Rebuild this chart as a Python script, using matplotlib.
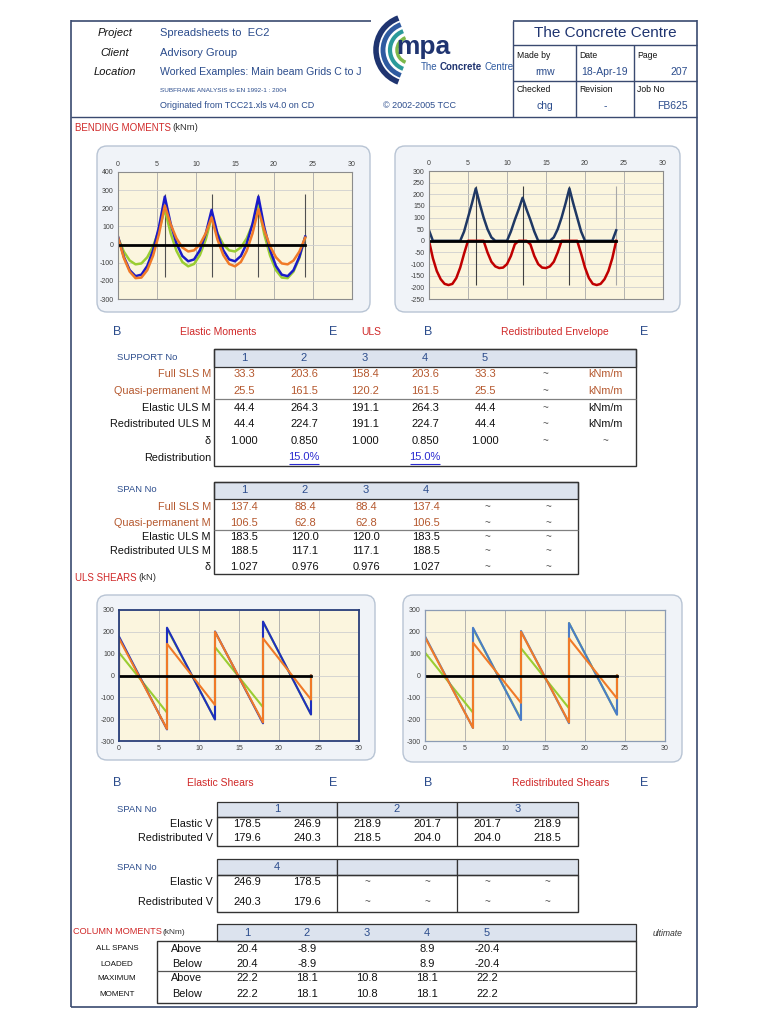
import matplotlib
matplotlib.use("Agg")
import matplotlib.pyplot as plt
from matplotlib.patches import FancyBboxPatch, Rectangle, Arc

W, H = 768, 1024
plt.rcParams["font.family"] = ["Liberation Sans", "DejaVu Sans"]
plt.rcParams["axes.unicode_minus"] = False

NAVY = "#2B4C8C"
RED = "#D02828"
BROWN = "#B5582E"
HDR = "#DCE3EE"
CREAM = "#FBF5DE"

# ---------------- data ----------------
support_no = [1, 2, 3, 4, 5]
full_sls_sup = [33.3, 203.6, 158.4, 203.6, 33.3]
quasi_sup = [25.5, 161.5, 120.2, 161.5, 25.5]
elastic_uls_sup = [44.4, 264.3, 191.1, 264.3, 44.4]
redis_uls_sup = [44.4, 224.7, 191.1, 224.7, 44.4]
delta_sup = [1.000, 0.850, 1.000, 0.850, 1.000]
redistribution = ["", "15.0%", "", "15.0%", ""]

span_no = [1, 2, 3, 4]
full_sls_span = [137.4, 88.4, 88.4, 137.4]
quasi_span = [106.5, 62.8, 62.8, 106.5]
elastic_uls_span = [183.5, 120.0, 120.0, 183.5]
redis_uls_span = [188.5, 117.1, 117.1, 188.5]
delta_span = [1.027, 0.976, 0.976, 1.027]

elastic_v = [178.5, 246.9, 218.9, 201.7, 201.7, 218.9]
redis_v = [179.6, 240.3, 218.5, 204.0, 204.0, 218.5]
elastic_v4 = [246.9, 178.5]
redis_v4 = [240.3, 179.6]

col_above_all = [20.4, -8.9, None, 8.9, -20.4]
col_below_all = [20.4, -8.9, None, 8.9, -20.4]
col_above_max = [22.2, 18.1, 10.8, 18.1, 22.2]
col_below_max = [22.2, 18.1, 10.8, 18.1, 22.2]

# bending moment diagrams (hogging plotted positive), stations along beam (m)
beam_x = [0, 0.75, 1.5, 2.25, 3, 3.75, 4.5, 5.25, 6,
          6.75, 7.5, 8.25, 9, 9.75, 10.5, 11.25, 12,
          12.75, 13.5, 14.25, 15, 15.75, 16.5, 17.25, 18,
          18.75, 19.5, 20.25, 21, 21.75, 22.5, 23.25, 24]
m_all_spans = [44, -68, -141, -174, -166, -118, -31, 96, 264,
               115, 6, -63, -92, -82, -31, 60, 191,
               60, -31, -82, -92, -63, 6, 115, 264,
               96, -31, -118, -166, -174, -141, -68, 44]
m_alt_13 = [40, -74, -149, -185, -182, -141, -61, 57, 215,
            111, 34, -16, -38, -32, 1, 62, 150,
            28, -58, -107, -120, -96, -35, 62, 195,
            79, -9, -70, -104, -109, -88, -39, 38]
m_alt_24 = [38, -39, -88, -109, -104, -70, -9, 79, 195,
            62, -35, -96, -120, -107, -58, 28, 150,
            62, 1, -32, -38, -16, 34, 111, 215,
            57, -61, -141, -182, -185, -149, -74, 40]

env_x = [0, 0.5, 1, 1.5, 2, 2.5, 3, 3.5, 4, 4.5, 5, 5.5, 6, 6.5, 7, 7.5, 8, 8.5,
         9, 9.5, 10, 10.5, 11, 11.5, 12, 12.5, 13, 13.5, 14, 14.5, 15, 15.5, 16,
         16.5, 17, 17.5, 18, 18.5, 19, 19.5, 20, 20.5, 21, 21.5, 22, 22.5, 23,
         23.5, 24]
env_hog = [45, 0, 0, 0, 0, 0, 0, 0, 0, 40, 100, 160, 225, 160, 100, 50, 15, 0,
           0, 0, 0, 40, 90, 135, 185, 135, 90, 40, 0, 0, 0, 0, 15,
           50, 100, 160, 225, 160, 100, 40, 0, 0, 0, 0, 0, 0, 0,
           0, 45]
env_sag = [0, -75, -130, -165, -185, -190, -185, -160, -115, -55, 0, 0, 0, 0, 0, -50, -90, -110,
           -117, -115, -100, -65, -15, 0, 0, 0, -15, -65, -100, -115, -117, -110, -90,
           -50, 0, 0, 0, 0, 0, -55, -115, -160, -185, -190, -185, -165, -130,
           -75, 0]

support_x = [6, 12, 18, 24]

# shear force diagrams
shear_x = [0, 0, 6, 6, 12, 12, 18, 18, 24, 24]
v_el_all = [0, 178.5, -246.9, 218.9, -201.7, 201.7, -218.9, 246.9, -178.5, 0]
v_el_13 = [0, 170, -245, 145, -135, 200, -215, 170, -110, 0]
v_el_24 = [0, 105, -170, 215, -200, 130, -145, 245, -178, 0]
v_rd_all = [0, 179.6, -240.3, 218.5, -204.0, 204.0, -218.5, 240.3, -179.6, 0]
v_rd_13 = [0, 175, -240, 150, -125, 200, -215, 170, -105, 0]
v_rd_24 = [0, 105, -170, 215, -200, 125, -150, 240, -178, 0]

# ---------------- figure ----------------
fig = plt.figure(figsize=(W / 100, H / 100), dpi=100)
fig.patch.set_facecolor("white")
ov = fig.add_axes([0, 0, 1, 1])
ov.set_xlim(0, W)
ov.set_ylim(H, 0)
ov.axis("off")


def px_axes(x0, y0, x1, y1):
    return fig.add_axes([x0 / W, 1 - y1 / H, (x1 - x0) / W, (y1 - y0) / H])


def txt(x, y, s, size=8, color="#111111", ha="center", **kw):
    return ov.text(x, y, s, fontsize=size, color=color, ha=ha, va="center", **kw)


def after(prev, s, size, color, gap=0, **kw):
    # text placed straight after another text
    return ov.annotate(s, xy=(1, 0.5), xycoords=prev, xytext=(gap, 0),
                       textcoords="offset points", fontsize=size, color=color,
                       ha="left", va="center", **kw)


def line(x0, y0, x1, y1, color="#333333", lw=0.9):
    ov.plot([x0, x1], [y0, y1], color=color, lw=lw, solid_capstyle="butt")


def rect(x0, y0, x1, y1, fc="none", ec="#333333", lw=0.9):
    ov.add_patch(Rectangle((x0, y0), x1 - x0, y1 - y0, fc=fc, ec=ec, lw=lw))


def frame(x0, y0, x1, y1):
    ov.add_patch(FancyBboxPatch((x0 + 6, y0 + 6), x1 - x0 - 12, y1 - y0 - 12,
                                boxstyle="round,pad=6,rounding_size=10",
                                fc="#F0F3F8", ec="#B8C4D4", lw=1.0))


# page border
line(71, 20, 71, 1007, "#3A4A70", 1.2)
line(697, 20, 697, 1007, "#3A4A70", 1.2)
line(71, 1007, 697, 1007, "#3A4A70", 1.2)
line(71, 21, 371, 21, "#3A4A70", 1.2)
line(513, 21, 697, 21, "#3A4A70", 1.2)
line(71, 117, 697, 117, "#3A4A70", 1.0)

# header left
for yy, s in [(33, "Project"), (53, "Client"), (72, "Location")]:
    txt(115, yy, s, 8, "#111111", style="italic")
txt(160, 33, "Spreadsheets to  EC2", 8, NAVY, ha="left")
txt(160, 53, "Advisory Group", 8, NAVY, ha="left")
txt(160, 72, "Worked Examples: Main beam Grids C to J", 7.6, NAVY, ha="left")
txt(160, 90, "SUBFRAME ANALYSIS to EN 1992-1 : 2004", 4.6, NAVY, ha="left")
txt(160, 106, "Originated from TCC21.xls v4.0 on CD", 6.5, NAVY, ha="left")
txt(383, 106, "\u00a9 2002-2005 TCC", 6.5, NAVY, ha="left")

# logo
for r, c, th in [(34, "#1F3470", 4), (27, "#2E5AA0", 3.5), (20, "#2A9A9A", 3), (13, "#7DB84A", 2.5)]:
    ov.add_patch(Arc((410, 50), 2 * r, 2 * r, theta1=110, theta2=250, color=c, lw=th))
txt(423, 47, "mpa", 19, "#1F3470", weight="bold")
t_the = txt(421, 67, "The", 7, "#2E5AA0", ha="left")
t_con = after(t_the, "Concrete", 7, "#1F3470", gap=1.5, weight="bold")
after(t_con, "Centre", 7, "#2E5AA0", gap=1.5)

# header right box
line(513, 21, 513, 117, "#3A4A70", 1.0)
line(513, 45, 697, 45, "#3A4A70", 1.0)
line(513, 81, 697, 81, "#3A4A70", 1.0)
line(576, 45, 576, 117, "#3A4A70", 1.0)
line(634, 45, 634, 117, "#3A4A70", 1.0)
txt(605, 33, "The Concrete Centre", 11, "#1F3470")
for xx, s in [(517, "Made by"), (579, "Date"), (637, "Page")]:
    txt(xx, 55, s, 6.2, ha="left")
for xx, s in [(517, "Checked"), (579, "Revision"), (637, "Job No")]:
    txt(xx, 90, s, 6.2, ha="left")
txt(545, 72, "rmw", 7.5, NAVY)
txt(605, 72, "18-Apr-19", 7.5, NAVY)
txt(688, 72, "207", 7.5, NAVY, ha="right")
txt(545, 106, "chg", 7.5, NAVY)
txt(605, 106, "-", 7.5, NAVY)
txt(688, 106, "FB625", 7.5, NAVY, ha="right")

# ---------------- bending moment charts ----------------
t = txt(75, 128, "BENDING MOMENTS", 7, RED, ha="left")
after(t, "(kNm)", 6.8, "#333333", gap=1)

frame(97, 146, 370, 312)
frame(395, 146, 680, 312)


def style_chart(ax, ylim, ystep, top, spine="#8C8C8C", spine_lw=0.8):
    ax.set_facecolor(CREAM)
    ax.set_xlim(0, 30)
    ax.set_ylim(*ylim)
    ax.set_xticks(range(0, 31, 5))
    ax.set_yticks(range(ylim[0], ylim[1] + 1, ystep))
    if top:
        ax.xaxis.tick_top()
    ax.tick_params(length=0, labelsize=5, colors="#404040", pad=3)
    ax.grid(axis="x", color="#A8A8A8", lw=0.6)
    ax.grid(axis="y", color="#CFCFCF", lw=0.6)
    ax.set_axisbelow(True)
    for s in ax.spines.values():
        s.set_color(spine)
        s.set_linewidth(spine_lw)


ax1 = px_axes(118, 172, 352, 299)
style_chart(ax1, (-300, 400), 100, True)
ax1.vlines(support_x, -180, 280, color="#505050", lw=0.8)
ax1.plot(beam_x, m_alt_24, color="#9ACD32", lw=1.8)
ax1.plot(beam_x, m_all_spans, color="#1A1AC8", lw=1.8)
ax1.plot(beam_x, m_alt_13, color="#F07A28", lw=1.8)
ax1.plot([0, 24], [0, 0], color="black", lw=2)

ax2 = px_axes(429, 171, 663, 299)
style_chart(ax2, (-250, 300), 50, True)
ax2.vlines(support_x[:3], -190, 235, color="#404040", lw=0.8)
ax2.vlines(support_x[3:], -190, 235, color="#A8A8A8", lw=0.8)
ax2.plot(env_x, env_sag, color="#C00000", lw=1.8)
ax2.plot(env_x, env_hog, color="#1F3864", lw=1.8)
ax2.plot([0, 24], [0, 0], color="black", lw=2)

for xx, s, c in [(117, "B", NAVY), (218, "Elastic Moments", RED), (333, "E", NAVY),
                 (371, "ULS", RED), (428, "B", NAVY), (555, "Redistributed Envelope", RED),
                 (644, "E", NAVY)]:
    txt(xx, 332, s, 9 if len(s) == 1 else 7.5, c)

# ---------------- support table ----------------
cols7 = [244, 304, 365, 425, 485, 545, 605]
txt(117, 358, "SUPPORT No", 6.8, NAVY, ha="left")
rect(214, 349, 636, 367, fc=HDR)
for xx, n in zip(cols7, support_no):
    txt(xx, 358, str(n), 8, NAVY)
rect(214, 349, 636, 466, ec="#333333", lw=1.0)
line(214, 399, 636, 399, "#808080", 0.9)

sup_rows = [
    (374, "Full SLS M", full_sls_sup, BROWN, "{:.1f}", "kNm/m"),
    (391, "Quasi-permanent M", quasi_sup, BROWN, "{:.1f}", "kNm/m"),
    (408, "Elastic ULS M", elastic_uls_sup, "#111111", "{:.1f}", "kNm/m"),
    (424, "Redistributed ULS M", redis_uls_sup, "#111111", "{:.1f}", "kNm/m"),
    (441, "\u03b4", delta_sup, "#111111", "{:.3f}", "~"),
]
for yy, lab, vals, c, fmt, unit in sup_rows:
    txt(211, yy, lab, 7.8, c, ha="right")
    for xx, v in zip(cols7, vals):
        txt(xx, yy, fmt.format(v), 8, c)
    txt(cols7[5], yy, "~", 7, "#555555")
    txt(cols7[6], yy, unit, 7.8 if unit != "~" else 7, c if unit != "~" else "#555555")
txt(211, 458, "Redistribution", 7.8, ha="right")
for xx, s in zip(cols7, redistribution):
    if s:
        txt(xx, 457, s, 8, "#2A2AD0")
        line(xx - 15, 464, xx + 15, 464, "#2A2AD0", 0.8)

# ---------------- span table ----------------
cols6 = [244, 305, 366, 426, 487, 548]
txt(117, 490, "SPAN No", 6.8, NAVY, ha="left")
rect(214, 482, 578, 499, fc=HDR)
for xx, n in zip(cols6, span_no):
    txt(xx, 490, str(n), 8, NAVY)
rect(214, 482, 578, 574, lw=1.0)
line(214, 530, 578, 530, "#808080", 0.9)
span_rows = [
    (507, "Full SLS M", full_sls_span, BROWN, "{:.1f}"),
    (523, "Quasi-permanent M", quasi_span, BROWN, "{:.1f}"),
    (537, "Elastic ULS M", elastic_uls_span, "#111111", "{:.1f}"),
    (551, "Redistributed ULS M", redis_uls_span, "#111111", "{:.1f}"),
    (567, "\u03b4", delta_span, "#111111", "{:.3f}"),
]
for yy, lab, vals, c, fmt in span_rows:
    txt(211, yy, lab, 7.8, c, ha="right")
    for xx, v in zip(cols6, vals):
        txt(xx, yy, fmt.format(v), 8, c)
    txt(cols6[4], yy, "~", 7, "#555555")
    txt(cols6[5], yy, "~", 7, "#555555")

# ---------------- shear charts ----------------
t = txt(75, 578, "ULS SHEARS", 7, RED, ha="left")
after(t, "(kN)", 6.8, "#333333", gap=1)

frame(97, 595, 375, 760)
frame(403, 595, 682, 762)

ax3 = px_axes(119, 610, 359, 741)
style_chart(ax3, (-300, 300), 100, False, spine="#2A3F7A", spine_lw=1.3)
ax3.plot(shear_x, v_el_24, color="#9ACD32", lw=1.5)
ax3.plot(shear_x, v_el_all, color="#1E2FBF", lw=1.5)
ax3.plot(shear_x, v_el_13, color="#F07A28", lw=1.5)
ax3.plot([0, 24], [0, 0], color="black", lw=2)

ax4 = px_axes(425, 610, 665, 741)
style_chart(ax4, (-300, 300), 100, False, spine="#8C9CB4", spine_lw=0.9)
ax4.plot(shear_x, v_rd_24, color="#9ACD32", lw=1.5)
ax4.plot(shear_x, v_rd_all, color="#4A7CC8", lw=1.5)
ax4.plot(shear_x, v_rd_13, color="#F07A28", lw=1.5)
ax4.plot([0, 24], [0, 0], color="black", lw=2)

for xx, s, c in [(117, "B", NAVY), (220, "Elastic Shears", RED), (333, "E", NAVY),
                 (428, "B", NAVY), (561, "Redistributed Shears", RED), (644, "E", NAVY)]:
    txt(xx, 783, s, 9 if len(s) == 1 else 7.5, c)

# ---------------- shear tables ----------------
vcols = [247, 307, 367, 427, 487, 547]
cell_edges = [217, 337, 457, 578]


def shear_table(y_top, y_hdr_bot, y_bot, heads, rows):
    txt(117, (y_top + y_hdr_bot) / 2, "SPAN No", 6.8, NAVY, ha="left")
    for i in range(3):
        rect(cell_edges[i], y_top, cell_edges[i + 1], y_hdr_bot, fc=HDR)
        txt((cell_edges[i] + cell_edges[i + 1]) / 2, (y_top + y_hdr_bot) / 2, heads[i], 8, NAVY)
    rect(217, y_hdr_bot, 578, y_bot, lw=1.0)
    for xe in cell_edges[1:3]:
        line(xe, y_hdr_bot, xe, y_bot, "#333333", 0.9)
    for yy, lab, vals in rows:
        txt(213, yy, lab, 7.8, ha="right")
        for xx, v in zip(vcols, vals):
            if v is None:
                txt(xx, yy, "~", 7, "#555555")
            else:
                txt(xx, yy, f"{v:.1f}", 8)


shear_table(802, 817, 846, ["1", "2", "3"],
            [(824, "Elastic V", elastic_v), (838, "Redistributed V", redis_v)])
shear_table(859, 875, 912, ["4", "", ""],
            [(882, "Elastic V", elastic_v4 + [None] * 4),
             (902, "Redistributed V", redis_v4 + [None] * 4)])

# ---------------- column moments ----------------
t = txt(73, 932, "COLUMN MOMENTS", 6.6, RED, ha="left")
after(t, "(kNm)", 6, "#333333", gap=0.5)
rect(217, 924, 636, 941, fc=HDR)
for xx, n in zip(vcols, support_no):
    txt(xx, 933, str(n), 8, NAVY)
txt(668, 933, "ultimate", 6.2, "#333333", style="italic")
rect(157, 941, 636, 1003, lw=1.0)
line(157, 971, 636, 971, "#555555", 0.9)
for yy, s in [(949, "ALL SPANS"), (964, "LOADED"), (978, "MAXIMUM"), (994, "MOMENT")]:
    txt(117, yy, s, 5.8, "#111111")
col_rows = [(949, "Above", col_above_all), (964, "Below", col_below_all),
            (978, "Above", col_above_max), (994, "Below", col_below_max)]
for yy, lab, vals in col_rows:
    txt(187, yy, lab, 7.8)
    for xx, v in zip(vcols, vals):
        if v is not None:
            txt(xx, yy, f"{v:.1f}", 8)

fig.savefig("out.png", dpi=100)
